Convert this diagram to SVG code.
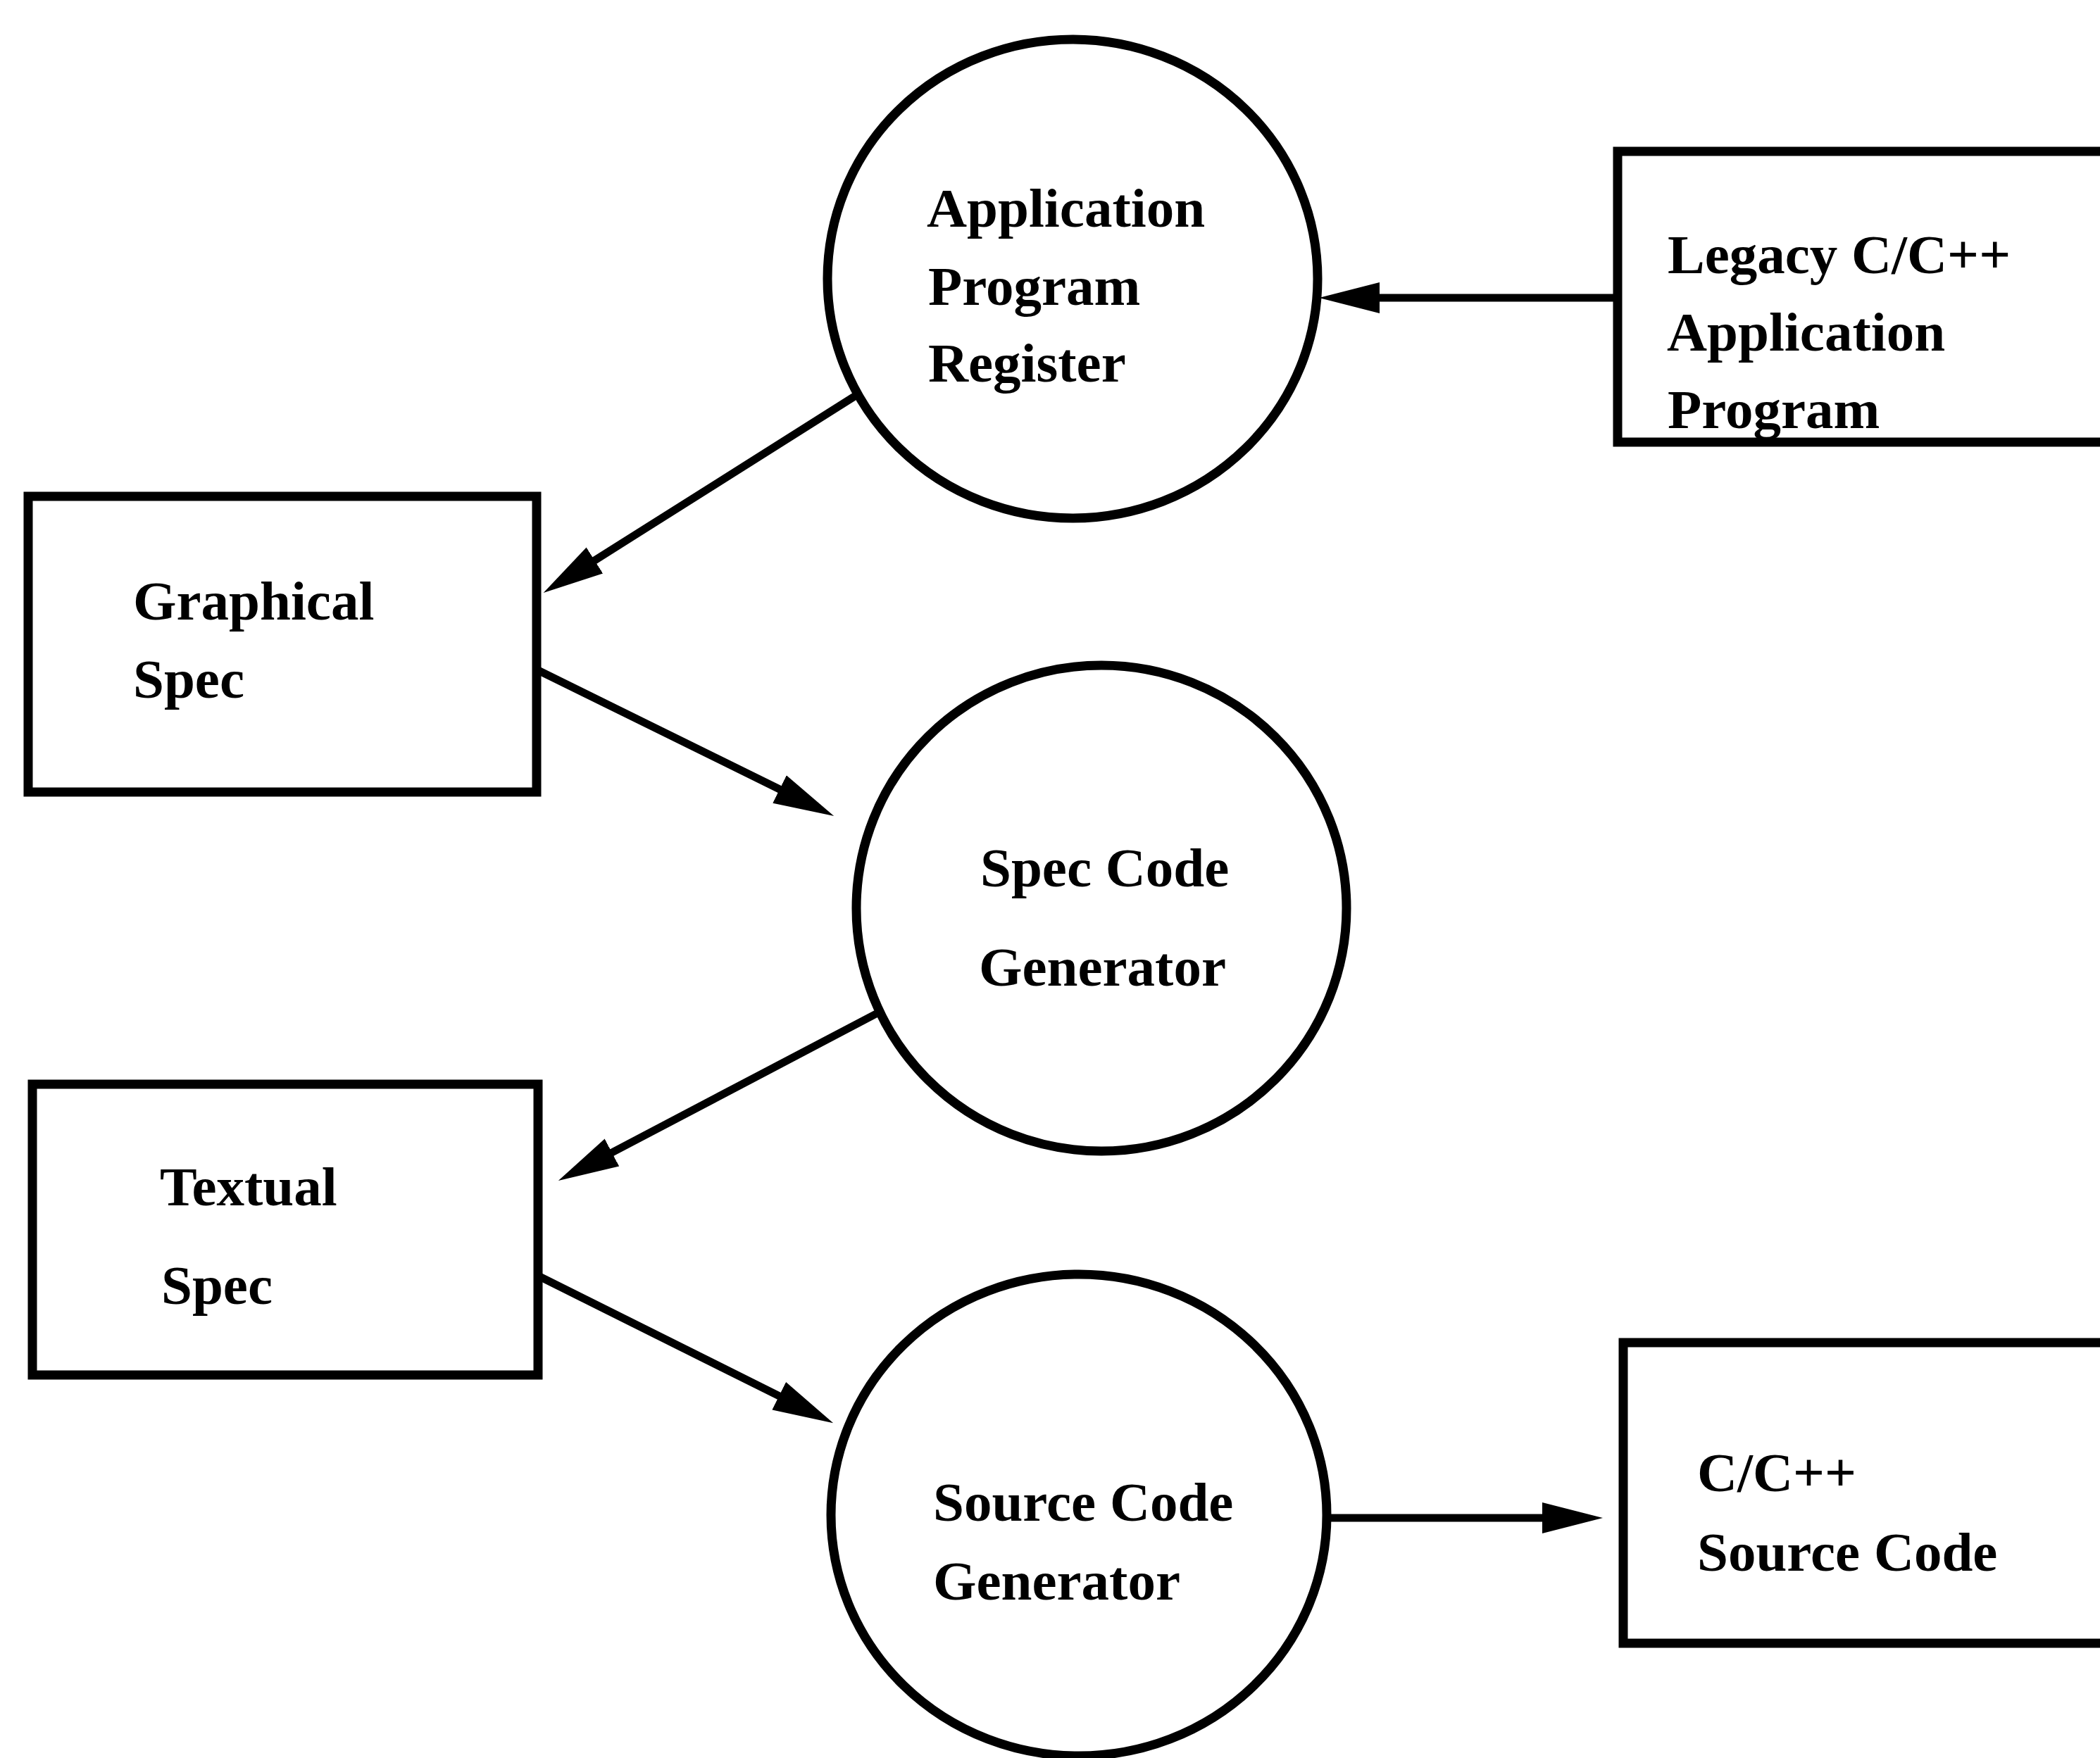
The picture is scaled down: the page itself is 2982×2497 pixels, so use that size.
<svg xmlns="http://www.w3.org/2000/svg" width="2982" height="2497" viewBox="0 0 2982 2497">
  <style>
    .bg { fill: #ffffff; }
    .node { fill: none; stroke: #000000; stroke-width: 13; }
    .label { font-family: "Liberation Serif", "Times New Roman", serif; font-weight: bold; font-size: 79px; fill: #000000; }
    .edge { fill: none; stroke: #000000; stroke-width: 11; marker-end: url(#head); }
  </style>
  <defs>
    <marker id="head" markerUnits="userSpaceOnUse" markerWidth="96" markerHeight="50" refX="44" refY="22" orient="auto" viewBox="0 0 96 44">
      <path d="M0,0 L86,22 L0,44 Z" fill="#000000"/>
    </marker>
  </defs>

  <rect class="bg" x="0" y="0" width="2982" height="2497"/>

  <!-- Processes -->
  <g id="app-program-register">
    <ellipse class="node" cx="1523" cy="396" rx="348" ry="340"/>
    <text class="label" x="1316" y="322">Application</text>
    <text class="label" x="1318" y="433">Program</text>
    <text class="label" x="1318" y="542">Register</text>
  </g>

  <g id="spec-code-generator">
    <ellipse class="node" cx="1564" cy="1290" rx="348" ry="345"/>
    <text class="label" x="1392" y="1259">Spec Code</text>
    <text class="label" x="1390" y="1400">Generator</text>
  </g>

  <g id="source-code-generator">
    <ellipse class="node" cx="1532" cy="2152" rx="352" ry="342"/>
    <text class="label" x="1325" y="2160">Source Code</text>
    <text class="label" x="1325" y="2272">Generator</text>
  </g>

  <!-- Data stores -->
  <g id="legacy-program">
    <rect class="node" x="2297" y="215" width="720" height="413"/>
    <text class="label" x="2368" y="388">Legacy C/C++</text>
    <text class="label" x="2367" y="498">Application</text>
    <text class="label" x="2368" y="608">Program</text>
  </g>

  <g id="graphical-spec">
    <rect class="node" x="40" y="705" width="722" height="420"/>
    <text class="label" x="189" y="880">Graphical</text>
    <text class="label" x="189" y="991">Spec</text>
  </g>

  <g id="textual-spec">
    <rect class="node" x="46" y="1540" width="718" height="413"/>
    <text class="label" x="227" y="1712">Textual</text>
    <text class="label" x="229" y="1852">Spec</text>
  </g>

  <g id="cpp-source-code">
    <rect class="node" x="2305" y="1907" width="720" height="427"/>
    <text class="label" x="2410" y="2118">C/C++</text>
    <text class="label" x="2410" y="2231">Source Code</text>
  </g>

  <!-- Flows -->
  <g id="connectors">
    <line class="edge" x1="2297" y1="423" x2="1915" y2="423"/>
    <line class="edge" x1="1215" y1="562" x2="807.2" y2="819.5"/>
    <line class="edge" x1="764" y1="952" x2="1146.5" y2="1140.5"/>
    <line class="edge" x1="1244" y1="1440" x2="830" y2="1657.5"/>
    <line class="edge" x1="766" y1="1813" x2="1145.6" y2="2002.4"/>
    <line class="edge" x1="1886" y1="2156" x2="2234" y2="2156"/>
  </g>
</svg>
